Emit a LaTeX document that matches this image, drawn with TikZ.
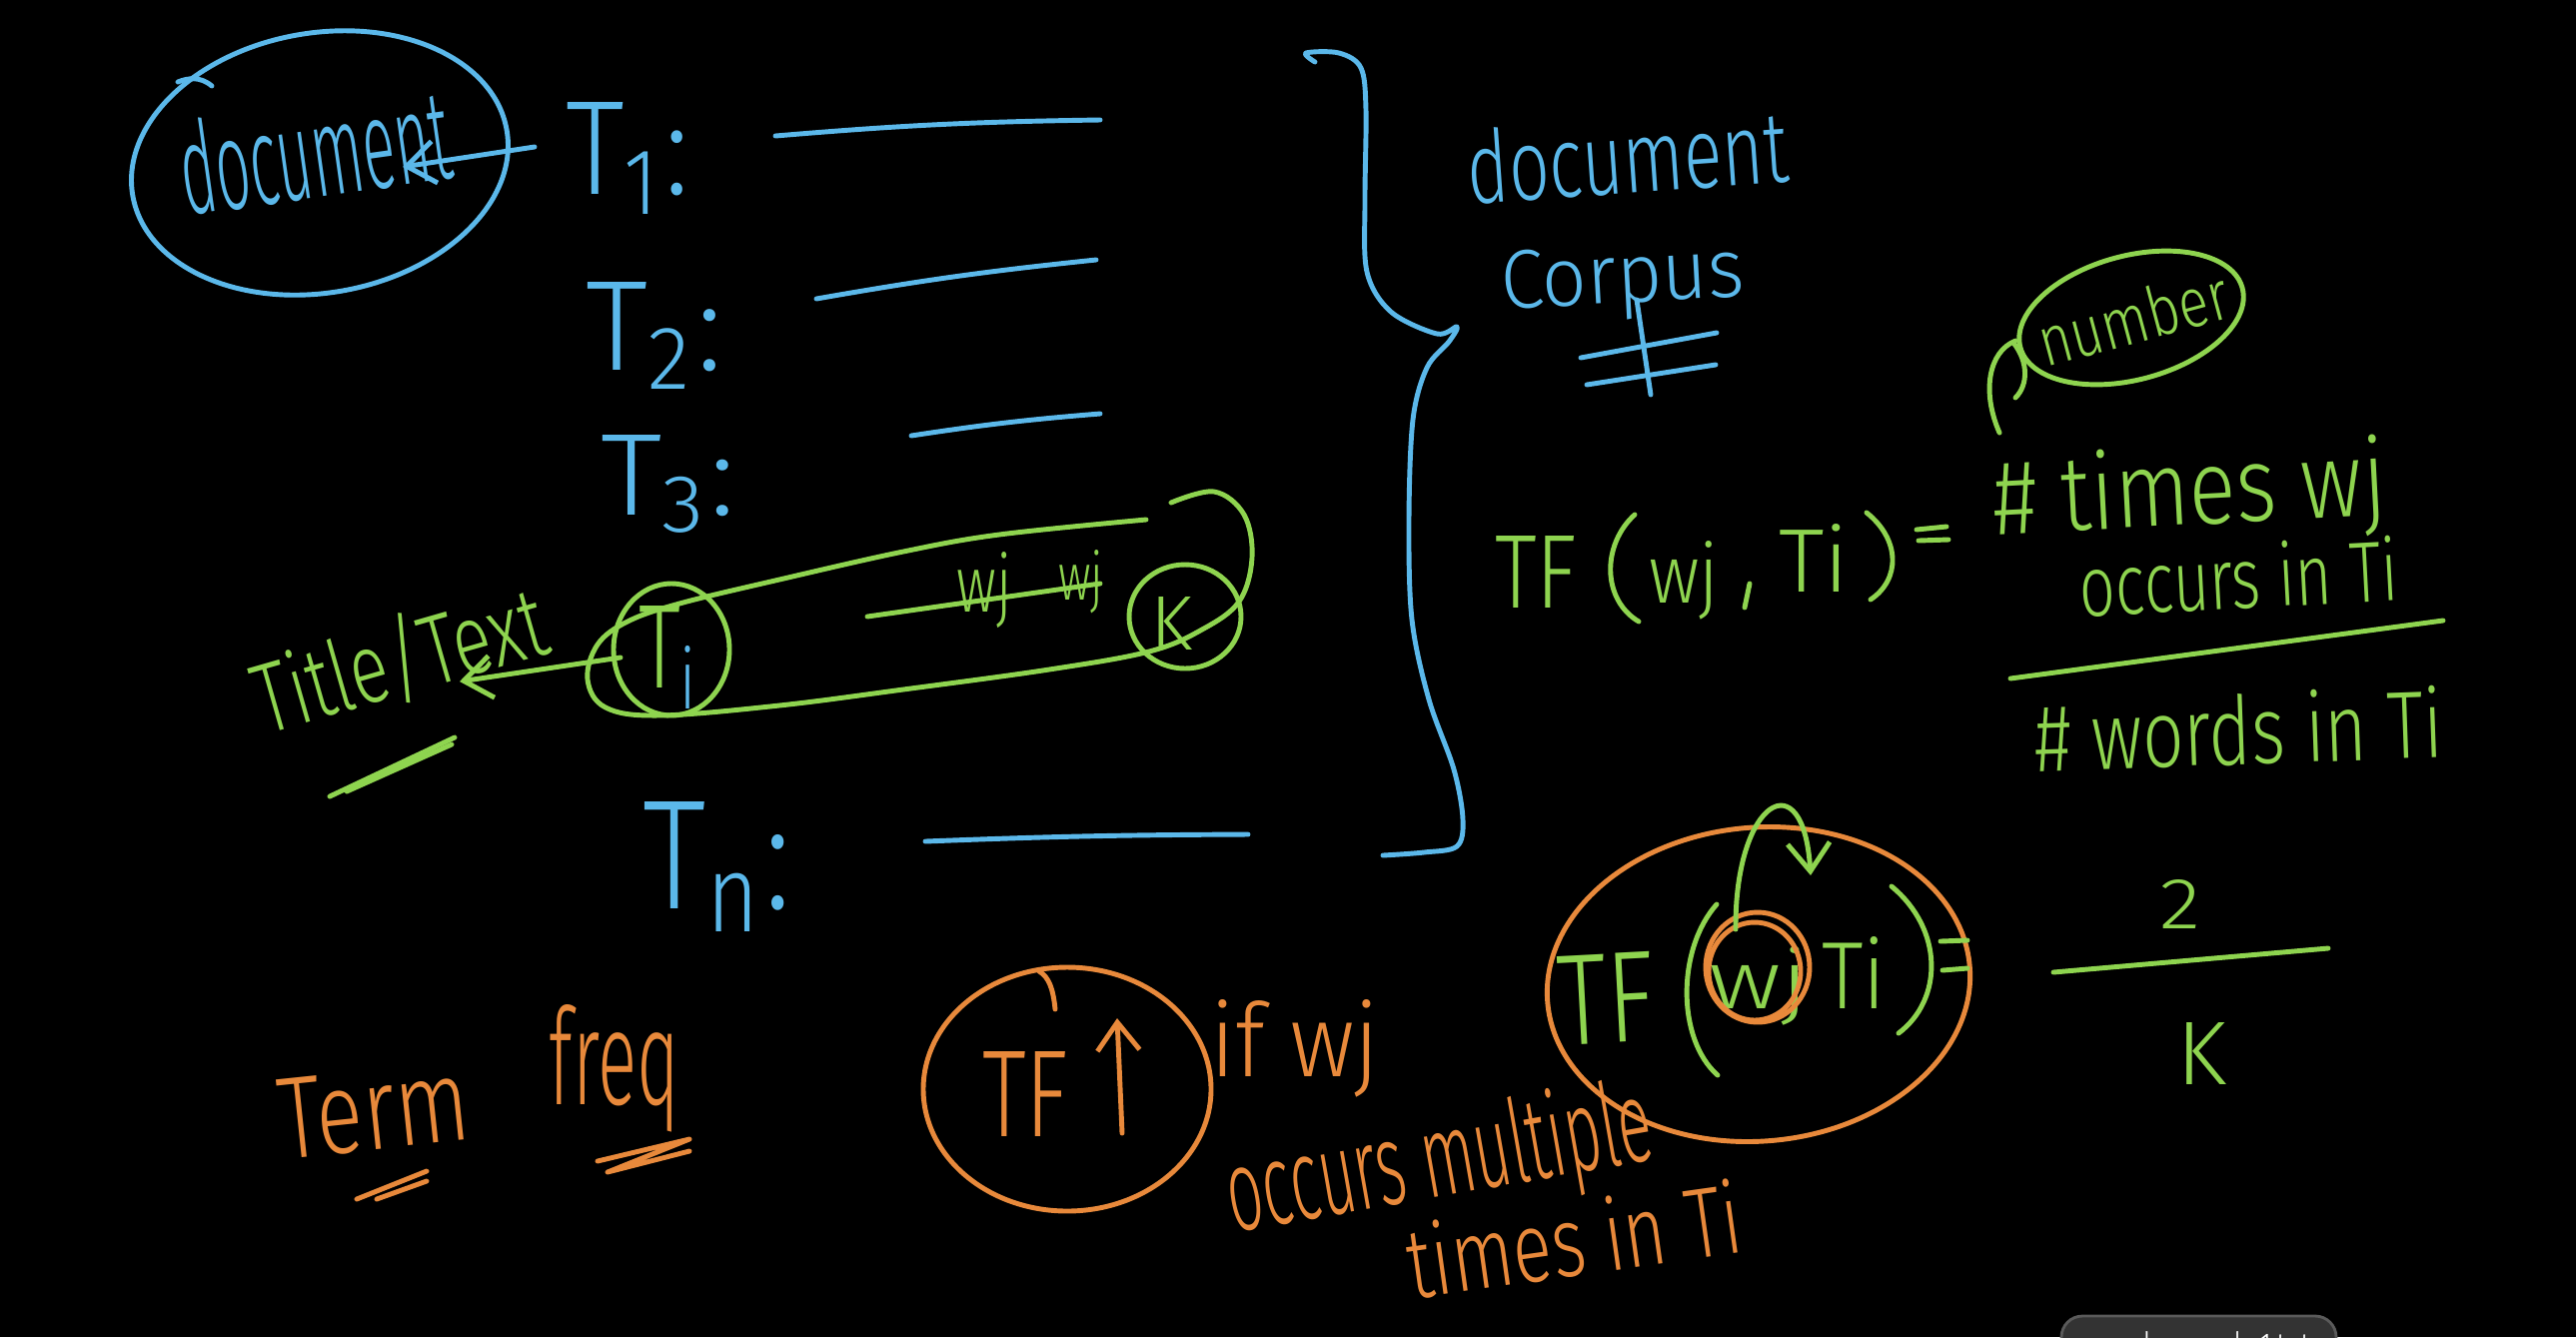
\documentclass[tikz,border=0pt]{standalone}
\usepackage{fontspec}
\usepackage{graphicx}
\setmainfont{Fira Sans Light}
\usetikzlibrary{arrows.meta}
\definecolor{bblue}{HTML}{5BB8EA}
\definecolor{bgreen}{HTML}{8ED44F}
\definecolor{borange}{HTML}{E8893B}
\definecolor{tipgrey}{HTML}{333333}
\definecolor{tipedge}{HTML}{5A5A5A}
\newlength\pxu \setlength\pxu{0.01cm}
\newcommand\HW[3]{\resizebox{#1\pxu}{#2\pxu}{#3}}
\tikzset{
  pen/.style={line width=1.4pt, line cap=round, line join=round},
  bpen/.style={pen, draw=bblue},
  gpen/.style={pen, draw=bgreen},
  opn/.style={pen, draw=borange},
  hw/.style={inner sep=0pt, outer sep=0pt, anchor=base},
  hwc/.style={inner sep=0pt, outer sep=0pt, anchor=center},
  barb/.style={-{Straight Barb[length=8pt,width=12pt]}}
}
\begin{document}
\begin{tikzpicture}[x=0.01cm, y=-0.01cm]
\fill[black] (0,0) rectangle (2578,1338);
\useasboundingbox (0,0) rectangle (2578,1338);

% ---------------- blue ----------------
\node[hw, text=bblue, rotate=8] (doc) at (321,197) {\HW{272}{95}{document}};
\draw[bpen, rotate around={10:(320,163)}] (320,163) ellipse [x radius=190, y radius=130];
\draw[bpen] (212,86) .. controls (200,76) and (188,78) .. (178,82);

\node[hw, text=bblue] (T1) at (628,194) {\HW{123}{92}{T\textsubscript{1}:}};
\node[hw, text=bblue] (T2) at (655,370) {\HW{136}{88}{T\textsubscript{2}:}};
\node[hw, text=bblue] (T3) at (669,515) {\HW{135}{80}{T\textsubscript{3}:}};
\node[hw, text=bblue] (Tn) at (718,909) {\HW{148}{107}{T\textsubscript{n}:}};

\coordinate (l1a) at (776,136); \coordinate (l1b) at (1101,120);
\coordinate (l2a) at (817,299); \coordinate (l2b) at (1097,260);
\coordinate (l3a) at (912,436); \coordinate (l3b) at (1101,414);
\coordinate (lna) at (926,842); \coordinate (lnb) at (1249,835);
\draw[bpen] (l1a) to[bend left=2] (l1b);
\draw[bpen] (l2a) to[bend left=2] (l2b);
\draw[bpen] (l3a) to[bend left=2] (l3b);
\draw[bpen] (lna) to[bend left=1] (lnb);

\coordinate (a1s) at (535,147);
\coordinate (a1e) at (403,167);
\draw[bpen, barb] (a1s) -- (a1e);

% brace
\draw[bpen] plot[smooth, tension=0.55] coordinates {
 (1316,62) (1307,53) (1340,53) (1362,68) (1367,110) (1366,200) (1368,272)
 (1392,312) (1438,334) (1458,327) (1450,342) (1428,368) (1414,420)
 (1410,520) (1413,620) (1430,700) (1455,770) (1464,820) (1458,847)
 (1425,853) (1384,856)};

\node[hw, text=bblue, rotate=4] (dc) at (1631,193) {\HW{322}{75}{document}};
\node[hw, text=bblue, rotate=3] (corp) at (1625,303) {\HW{244}{58}{Corpus}};
\draw[bpen] (1582,358) -- (1718,333);
\draw[bpen] (1588,385) -- (1717,365);
\draw[bpen] (1638,300) -- (1652,395);

% ---------------- green, left ----------------
\draw[gpen] plot[smooth, tension=0.6] coordinates {
 (1147,520) (1000,535) (904,552) (780,580) (680,604) (628,622) (598,645)
 (588,680) (606,708) (660,716) (780,706) (904,690) (1050,670) (1150,652)
 (1203,630) (1240,602) (1253,558) (1245,515) (1215,492) (1172,503)};
\draw[gpen] (672,650) ellipse [x radius=58, y radius=66];
\node[hw, text=bgreen] (Ti) at (670,688) {\HW{62}{82}{T\textsubscript{\color{bblue}i}}};

\coordinate (a2s) at (621,658);
\coordinate (a2e) at (460,682);
\draw[gpen, barb] (a2s) -- (a2e);

\node[hwc, text=bgreen, rotate=16] (title) at (400,660) {\HW{300}{80}{Title/Text}};
\draw[gpen] (330,797) -- (455,738);
\draw[gpen] (347,792) -- (452,745);

\draw[gpen] (868,617) -- (1101,584);
\node[hw, text=bgreen] (wj1) at (985,612) {\HW{55}{60}{wj}};
\node[hw, text=bgreen] (wj2) at (1082,600) {\HW{45}{50}{wj}};

\draw[gpen] (1186,617) ellipse [x radius=56, y radius=52];
\node[hw, text=bgreen] (K1) at (1172,650) {\HW{42}{53}{K}};

% ---------------- green, formula 1 ----------------
\node[hw, text=bgreen] (tf1) at (1537,608) {\HW{82}{72}{TF}};
\draw[gpen] (1636,515) .. controls (1603,545) and (1603,600) .. (1640,622);
\node[hw, text=bgreen] (wjf1) at (1685,603) {\HW{70}{62}{wj}};
\draw[gpen] (1751,584) -- (1746,608);
\node[hw, text=bgreen] (tif1) at (1815,592) {\HW{70}{68}{Ti}};
\draw[gpen] (1868,513) .. controls (1902,540) and (1902,580) .. (1872,600);
\draw[gpen] (1918,530) -- (1948,527);
\draw[gpen] (1920,541) -- (1950,540);

\draw[gpen, rotate around={15:(2133,318)}] (2133,318) ellipse [x radius=115, y radius=62];
\node[hwc, text=bgreen, rotate=15] (num) at (2135,318) {\HW{195}{52}{number}};
\draw[gpen] (2001,433) .. controls (1983,392) and (1990,352) .. (2017,341);
\draw[gpen] (2015,343) .. controls (2030,362) and (2030,385) .. (2017,398);

\node[hw, text=bgreen, rotate=3] (tw) at (2193,525) {\HW{394}{80}{\# times wj}};
\node[hw, text=bgreen, rotate=3] (oc) at (2242,609) {\HW{319}{65}{occurs in Ti}};
\draw[gpen] (2012,679) -- (2445,621);
\node[hw, text=bgreen, rotate=2] (wd) at (2242,765) {\HW{409}{72}{\# words in Ti}};

% ---------------- formula 2 ----------------
\draw[opn, rotate around={5:(1760,985)}] (1760,985) ellipse [x radius=212, y radius=157];
\node[hw, text=bgreen, rotate=3] (tf2) at (1610,1044) {\HW{97}{89}{TF}};
\draw[gpen] (1718,905) .. controls (1678,950) and (1678,1040) .. (1719,1076);
\node[hw, text=bgreen] (wjf2) at (1760,1009) {\HW{100}{62}{wj}};
\draw[opn] (1759,968) ellipse [x radius=52, y radius=55];
\draw[opn] (1756,972) ellipse [x radius=46, y radius=49];
\coordinate (a3s) at (1737,930);
\coordinate (a3e) at (1812,876);
\draw[gpen, barb] (a3s) .. controls (1736,800) and (1805,760) .. (a3e);
\node[hw, text=bgreen] (tif2) at (1855,1009) {\HW{64}{72}{Ti}};
\draw[gpen] (1893,887) .. controls (1945,930) and (1945,1000) .. (1900,1034);
\draw[gpen] (1942,942) -- (1969,941);
\draw[gpen] (1944,971) -- (1969,969);

\node[hw, text=bgreen] (two) at (2182,929) {\HW{41}{49}{2}};
\draw[gpen] (2055,973) -- (2330,949);
\node[hw, text=bgreen] (K2) at (2203,1085) {\HW{50}{62}{K}};

% ---------------- orange ----------------
\node[hw, text=borange, rotate=6] (term) at (378,1150) {\HW{191}{80}{Term}};
\draw[opn] (357,1200) -- (427,1172);
\draw[opn] (377,1200) -- (427,1182);
\node[hw, text=borange] (freq) at (615,1105) {\HW{130}{100}{freq}};
\draw[opn] (598,1162) -- (690,1140) -- (608,1173) -- (690,1152);

\draw[opn] (1068,1090) ellipse [x radius=144, y radius=122];
\draw[opn] (1040,972) .. controls (1050,978) and (1054,990) .. (1056,1010);
\node[hw, text=borange] (tfo) at (1026,1137) {\HW{86}{85}{TF}};
\coordinate (a4s) at (1123,1134);
\coordinate (a4e) at (1118,1019);
\draw[opn, barb] (a4s) -- (a4e);

\node[hw, text=borange] (ifwj) at (1296,1077) {\HW{169}{77}{if wj}};
\node[hwc, text=borange, rotate=10] (ocm) at (1441,1165) {\HW{430}{88}{occurs multiple}};
\node[hwc, text=borange, rotate=8] (tin) at (1575,1240) {\HW{337}{75}{times in Ti}};

% ---------------- tooltip ----------------
\begin{scope}
\clip (0,0) rectangle (2578,1338);
\draw[fill=tipgrey, draw=tipedge, line width=0.8pt, rounded corners=6pt] (2063,1317) rectangle (2338,1380);
\node[hw, text=white] (tip) at (2200,1360) {\HW{225}{28}{words vocab 1.txt}};
\end{scope}
\end{tikzpicture}
\end{document}
